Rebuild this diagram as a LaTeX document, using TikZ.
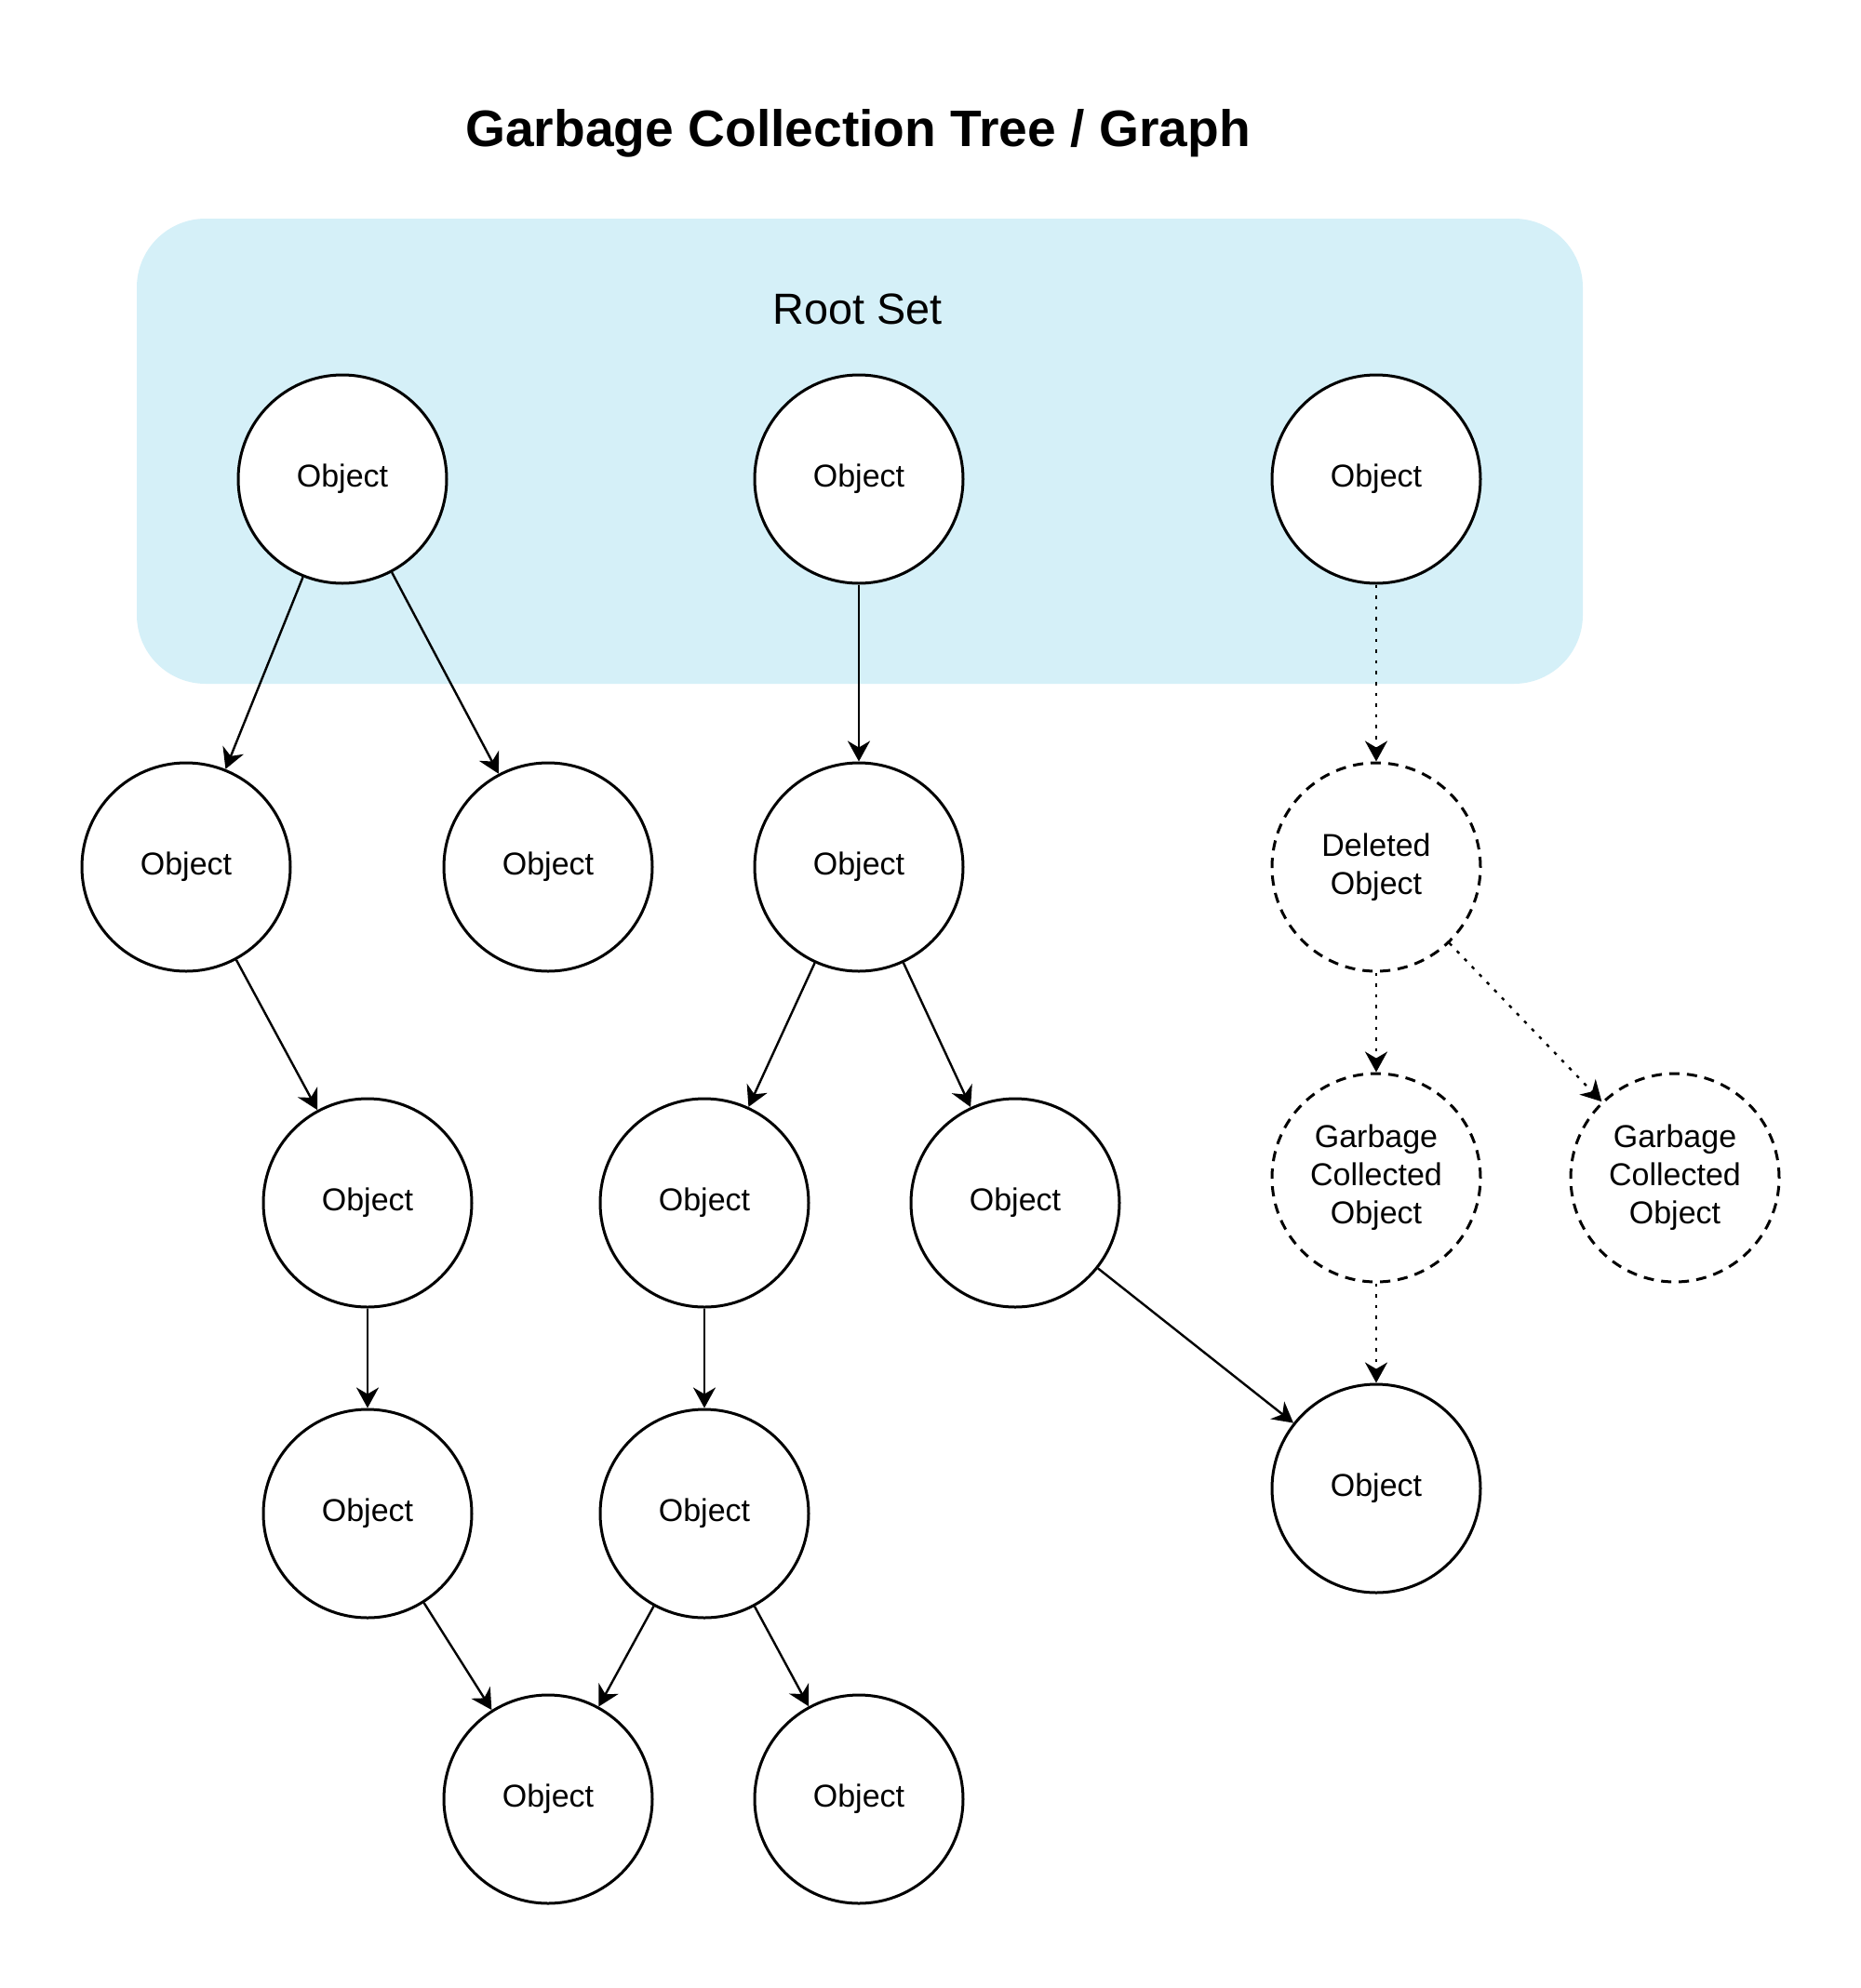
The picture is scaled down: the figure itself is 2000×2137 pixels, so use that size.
\documentclass[tikz,border=0pt]{standalone}
\usepackage{fontspec}
\setmainfont{Liberation Sans}
\usetikzlibrary{arrows.meta}
\definecolor{rootblue}{RGB}{213,240,248}
\tikzset{
  obj/.style={circle, draw=black, line width=1.5pt, fill=white, minimum size=112pt, inner sep=0pt,
    align=center, font=\fontsize{17}{20.5}\selectfont},
  gone/.style={obj, dash pattern=on 5.5pt off 4pt},
  link/.style={line width=1.2pt, -{Stealth[length=11pt, width=12pt, inset=3.5pt]}},
  ghostlink/.style={link, dash pattern=on 1.8pt off 4pt},
}
\begin{document}
\begin{tikzpicture}[x=0.5pt, y=-0.5pt]
\useasboundingbox[fill=white] (0,0) rectangle (2000,2137);
\node[font=\fontsize{27.6}{33}\selectfont\bfseries] (title) at (922,143) {Garbage Collection Tree / Graph};
\node[fill=rootblue, rounded corners=37pt, minimum width=777pt, minimum height=250pt, inner sep=0pt] (rootset) at (924,485) {};
\node[font=\fontsize{23.4}{28}\selectfont] (rootlabel) at (922,332) {Root Set};
% root objects
\node[obj] (r1) at (368,515) {Object};
\node[obj] (r2) at (923,515) {Object};
\node[obj] (r3) at (1479,515) {Object};
% row 2
\node[obj] (a1) at (200,932) {Object};
\node[obj] (b1) at (589,932) {Object};
\node[obj] (m1) at (923,932) {Object};
\node[gone] (del) at (1479,932) {Deleted\\Object};
% row 3
\node[obj] (a2) at (395,1293) {Object};
\node[obj] (m2) at (757,1293) {Object};
\node[obj] (m3) at (1091,1293) {Object};
\node[gone] (gc1) at (1479,1266) {Garbage\\Collected\\Object};
\node[gone] (gc2) at (1800,1266) {Garbage\\Collected\\Object};
% row 4
\node[obj] (a3) at (395,1627) {Object};
\node[obj] (m4) at (757,1627) {Object};
\node[obj] (o) at (1479,1600) {Object};
% row 5
\node[obj] (p) at (589,1934) {Object};
\node[obj] (q) at (923,1934) {Object};
% connectors
\draw[link] (r1) -- (a1);
\draw[link] (r1) -- (b1);
\draw[link] (r2) -- (m1);
\draw[ghostlink] (r3) -- (del);
\draw[link] (a1) -- (a2);
\draw[link] (a2) -- (a3);
\draw[link] (a3) -- (p);
\draw[link] (m1) -- (m2);
\draw[link] (m1) -- (m3);
\draw[link] (m2) -- (m4);
\draw[link] (m4) -- (p);
\draw[link] (m4) -- (q);
\draw[link] (m3) -- (o);
\draw[ghostlink] (del) -- (gc1);
\draw[ghostlink] (del) -- (gc2);
\draw[ghostlink] (gc1) -- (o);
\end{tikzpicture}
\end{document}
